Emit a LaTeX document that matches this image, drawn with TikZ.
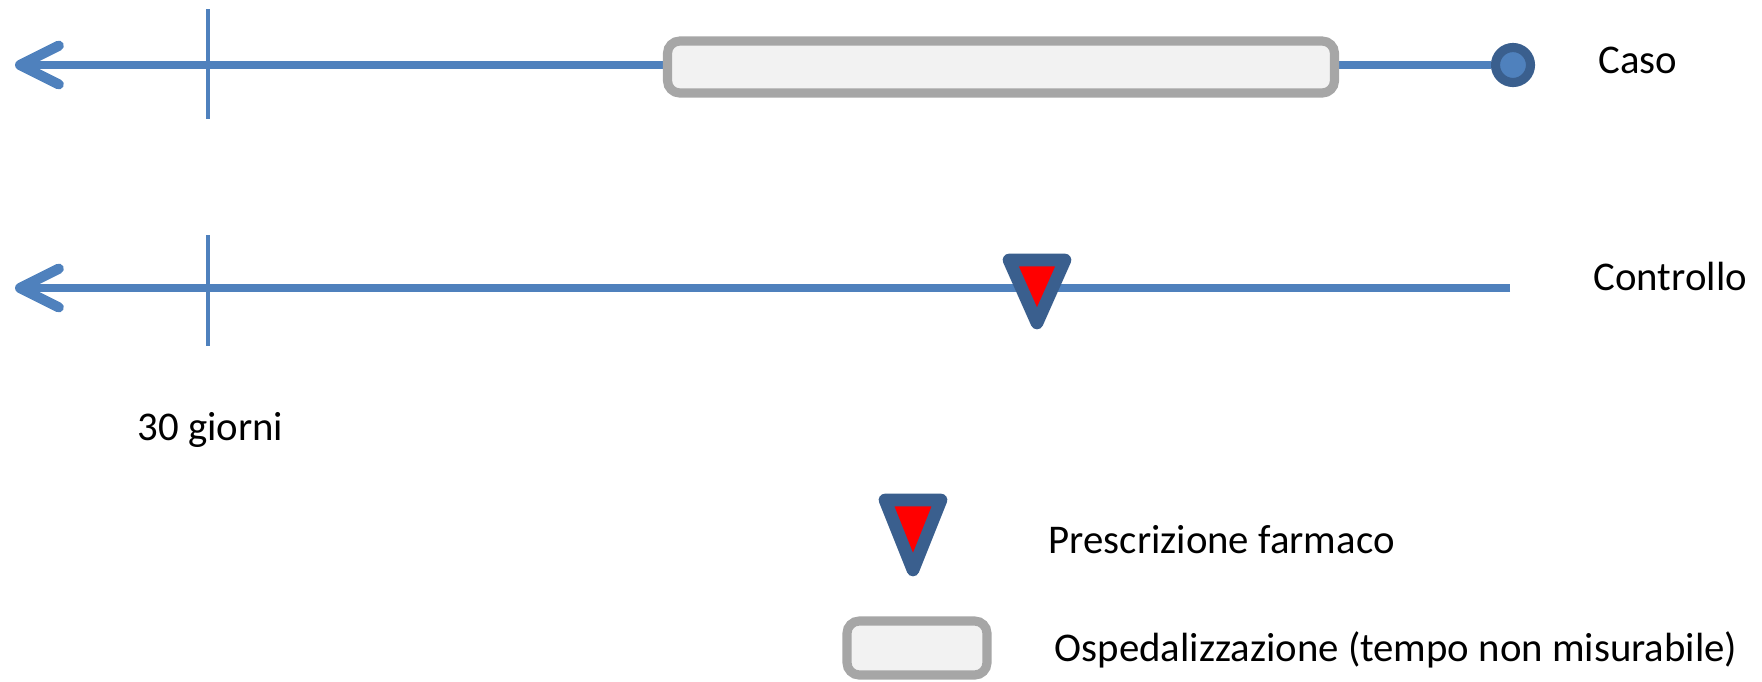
\documentclass[tikz,border=0pt]{standalone}
\usepackage{fontspec}
\setmainfont{Carlito}
\usetikzlibrary{arrows.meta}
\definecolor{lineblue}{HTML}{4F81BD}
\definecolor{darkblue}{HTML}{3A5F8E}
\definecolor{boxgray}{HTML}{A6A6A6}
\definecolor{boxfill}{HTML}{F2F2F2}
\definecolor{pinred}{HTML}{FF0000}
\newlength{\unitpx}
\setlength{\unitpx}{0.01cm}
\tikzset{
  timeline/.style={draw=lineblue, line width=2pt, -{Straight Barb[length=11pt,width=11pt,line width=2.9pt,line cap=round,line join=round]}},
  tickmark/.style={draw=lineblue, line width=0.9pt},
  hospbox/.style={draw=boxgray, fill=boxfill, line width=2.6pt, rounded corners=3.5pt},
  rxmark/.style={draw=darkblue, fill=pinred, line width=3.6pt, line join=round},
  casedot/.style={circle, draw=darkblue, fill=lineblue, line width=2.6pt, minimum size=35\unitpx, inner sep=0pt},
  lbl/.style={anchor=base west, inner sep=0pt, font=\fontsize{11.6pt}{13pt}\selectfont, text=black},
}
\begin{document}
\begin{tikzpicture}[x=0.01cm, y=-0.01cm]
\useasboundingbox (0,0) rectangle (1762,681);
% row 1: caso
\coordinate (tip1) at (15,65);
\node[casedot] (dot) at (1513,65) {};
\draw[timeline] (dot.west) -- (tip1);
\coordinate (t1top) at (208,9);
\coordinate (t1bot) at (208,119);
\draw[tickmark] (t1top) -- (t1bot);
\node[hospbox, minimum width=667\unitpx, minimum height=52\unitpx, inner sep=0pt] (hosp) at (1001,67) {};
\node[lbl] (caso) at (1598,73) {Caso};
% row 2: controllo
\coordinate (end2) at (1510,288);
\coordinate (tip2) at (15,288);
\draw[timeline] (end2) -- (tip2);
\coordinate (t2top) at (208,235);
\coordinate (t2bot) at (208,346);
\draw[tickmark] (t2top) -- (t2bot);
\draw[rxmark] (1009,260) -- (1065,260) -- (1037,323) -- cycle;
\node[lbl] (controllo) at (1593,290) {Controllo};
\node[lbl] (giorni) at (137,440) {30 giorni};
% legend
\draw[rxmark] (885,500) -- (941,500) -- (913,570) -- cycle;
\node[lbl] (presc) at (1048,553) {Prescrizione farmaco};
\node[hospbox, minimum width=140\unitpx, minimum height=54\unitpx, inner sep=0pt] (legbox) at (917,648) {};
\node[lbl] (osp) at (1054,661) {Ospedalizzazione (tempo non misurabile)};
\end{tikzpicture}
\end{document}
